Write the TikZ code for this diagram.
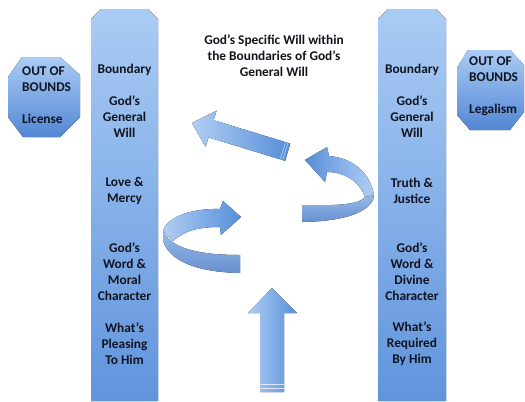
\documentclass[tikz,border=0pt]{standalone}
\usepackage{fontspec}
\setmainfont{Carlito}
\usepackage{tikz}
\usetikzlibrary{calc,positioning}
\definecolor{colTop}{RGB}{170,204,245}
\definecolor{colBot}{RGB}{96,148,220}
\definecolor{signBot}{RGB}{82,134,212}
\definecolor{arrLight}{RGB}{176,206,244}
\definecolor{arrDark}{RGB}{86,142,216}
\definecolor{wallLight}{RGB}{150,186,232}
\definecolor{wallDark}{RGB}{104,144,206}
\definecolor{inkText}{RGB}{18,20,32}
\tikzset{
    pillar/.style={
        top color=colTop,
        bottom color=colBot,
        draw=none
    },
    stopsign/.style={
        top color=colTop,
        bottom color=signBot,
        draw=none
    },
    pillartext/.style={
        align=center,
        inner sep=0pt,
        text=inkText,
        font=\bfseries\fontsize{11.4}{13.6}\selectfont
    },
    signtext/.style={
        pillartext,
        align=left,
        anchor=west
    },
    blockarrow/.style={left color=arrLight, right color=arrDark},
    ribbonband/.style={left color=arrLight, right color=arrDark},
    ribbonwall/.style={top color=wallLight, bottom color=wallDark},
    tailline/.style={draw=white, line width=.4pt, opacity=.7},
}

\begin{document}
\begin{tikzpicture}
[
    x=0.3mm, y=-0.3mm,
]
\useasboundingbox (0,0) rectangle (525,401);
% the two boundary pillars
\fill[pillar] (91,401) -- (91,19) -- (101,9) -- (148,9) -- (158,19) -- (158,401) -- cycle;
\fill[pillar] (378,401) -- (378,19) -- (388,9) -- (436,9) -- (446,19) -- (446,401) -- cycle;
% out of bounds signs
\fill[stopsign] (22,57) -- (60,57) -- (80,75) -- (80,117) -- (60,137) -- (23,137) -- (8,117) -- (8,77) -- cycle;
\fill[stopsign] (468,50) -- (510,50) -- (524,65) -- (524,112) -- (510,130) -- (470,130) -- (457,115) -- (457,68) -- cycle;

% straight arrow, up and left
\fill[blockarrow] (192,123) -- (216.6,110.6) -- (213.7,120.2) -- (290.3,143.6)
    -- (285.1,160.8) -- (208.5,137.4) -- (205.6,147.0) -- cycle;
\draw[tailline] (287.9,142.9) -- (282.7,160.1);
\draw[tailline] (285.5,142.1) -- (280.3,159.3);

% straight arrow, up
\fill[blockarrow] (272,288) -- (297,313) -- (284,313) -- (284,392) -- (260,392)
    -- (260,313) -- (248,313) -- cycle;
\draw[tailline] (260,384) -- (284,384);
\draw[tailline] (260,388) -- (284,388);

% curved arrow on the left
\fill[ribbonwall] (163,231) .. controls (170,247) and (195,255) .. (240,255) -- (240,273)
    .. controls (195,272) and (168,260) .. (163,240) -- cycle;
\fill[ribbonband] (241,217) -- (223,201) -- (220,209) .. controls (190,208) and (166,218) .. (163,231)
    -- (173,241) .. controls (185,230) and (200,227) .. (220,227) -- (221,235) -- cycle;

% curved arrow on the right
\fill[ribbonwall] (374,195) .. controls (374,205) and (360,221) .. (302,222) -- (302,205)
    .. controls (340,206) and (360,204) .. (365,197) -- cycle;
\fill[ribbonband, left color=arrDark, right color=arrLight] (305,160) -- (327,147) -- (329,156)
    .. controls (352,158) and (370,172) .. (374,195) -- (365,197)
    .. controls (360,182) and (345,172) .. (327,172) -- (325,182) -- cycle;

% title
\node[pillartext] (title) at (274,55.5) {God’s Specific Will within\\the Boundaries of God’s\\General Will};

% left pillar
\node[pillartext] (lBound) at (124.5,70) {Boundary};
\node[pillartext] (lWill) at (124.5,117) {God’s\\General\\Will};
\node[pillartext] (lLove) at (124.5,190.5) {Love \&\\Mercy};
\node[pillartext] (lWord) at (124.5,271.5) {God’s\\Word \&\\Moral\\Character};
\node[pillartext] (lPleasing) at (124.5,344) {What’s\\Pleasing\\To Him};

% right pillar
\node[pillartext] (rBound) at (412,70) {Boundary};
\node[pillartext] (rWill) at (412,117) {God’s\\General\\Will};
\node[pillartext] (rTruth) at (412,190.5) {Truth \&\\Justice};
\node[pillartext] (rWord) at (412,271.5) {God’s\\Word \&\\Divine\\Character};
\node[pillartext] (rRequired) at (412,344) {What’s\\Required\\By Him};

% signs
\node[signtext] (lOut) at (22,95.5) {OUT OF\\BOUNDS\\[13.6pt]License};
\node[signtext] (rOut) at (469,86) {OUT OF\\BOUNDS\\[13.6pt]Legalism};
\end{tikzpicture}
\end{document}
